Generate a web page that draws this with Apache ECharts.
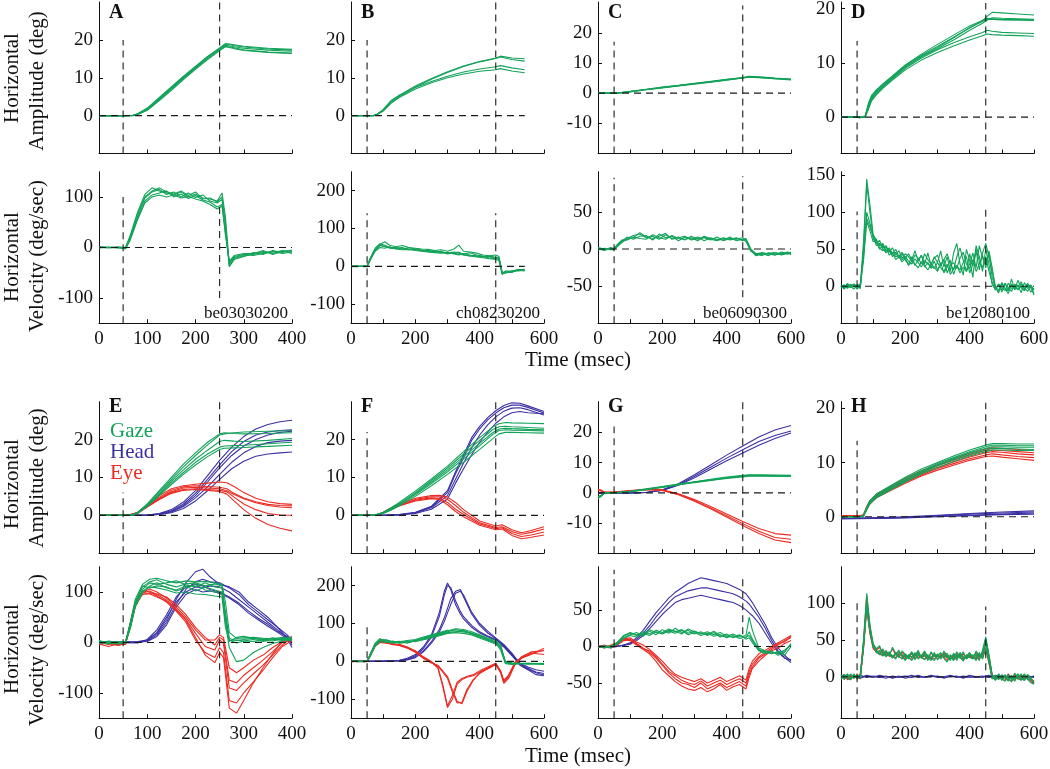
<!DOCTYPE html>
<html>
<head>
<meta charset="utf-8">
<title>Horizontal amplitude and velocity</title>
<script src="https://cdn.jsdelivr.net/npm/echarts@6.0.0/dist/echarts.min.js"></script>
<style>
  html, body { margin: 0; padding: 0; background: #fff; }
  #chart { width: 1050px; height: 769px; }
</style>
</head>
<body>
<div id="chart"></div>
<script>
// ---------- data ----------
// time bases (msec)
const T10 = [0,10,20,30,40,50,60,70,80,90,100,110,120,130,140,150,160,170,180,190,200,210,220,230,240,250,260,270,280,290,
  300,310,320,330,340,350,360,370,380,390,400,410,420,430,440,450,460,470,480,490,500,510,520,530,540,550,560,570,580,590,600];
const T20 = [0,20,40,60,80,100,120,140,160,180,200,220,240,260,280,300,320,340,360,380,400,420,440,460,480,500,520,540,560,580,600];

// A
const ampA_t = [0,50,70,80,100,125,150,175,200,225,250,262,280,300,350,400];
const ampA_gaze = [
  [0,0,0.1,0.5,2.0,4.8,7.6,10.4,13.0,15.6,17.8,18.9,18.5,18.1,17.6,17.3],
  [0,0,0.1,0.4,1.8,4.5,7.3,10.0,12.7,15.3,17.6,18.6,18.2,17.8,17.3,17.0],
  [0,0,0.0,0.3,1.5,4.2,7.0,9.8,12.5,15.0,17.3,18.3,17.9,17.4,16.8,16.5],
  [0,0,0.0,0.3,1.4,4.0,6.7,9.5,12.2,14.8,17.2,18.2,17.7,17.2,16.7,16.4],
  [0,-0.1,0.1,0.4,1.7,4.6,7.5,10.2,12.9,15.5,17.9,19.0,18.7,18.3,17.8,17.5]
];
const velA_t = [0,20,40,55,65,80,95,110,125,140,155,170,185,200,215,230,245,255,262,270,280,300,320,340,360,380,400];
const velA_gaze = [
  [2,0,1,0,25,70,105,118,112,108,104,110,100,106,98,96,92,108,60,-32,-20,-15,-14,-8,-12,-6,-8],
  [1,-1,0,-2,20,62,98,110,115,105,110,100,108,99,104,92,88,95,40,-36,-22,-17,-10,-14,-6,-10,-5],
  [0,1,-1,-1,18,58,92,104,108,112,100,106,97,103,94,90,80,85,30,-30,-18,-14,-16,-12,-9,-7,-12],
  [1,0,0,-3,15,55,88,100,104,100,104,98,101,96,92,85,76,82,25,-27,-16,-12,-12,-6,-14,-8,-6],
  [-1,0,1,-1,22,66,100,112,118,110,106,112,103,110,96,98,90,100,50,-38,-24,-18,-13,-10,-8,-12,-9]
];

// B
const ampB_t = [0,50,70,80,100,125,150,200,250,300,350,400,450,465,500,540];
const ampB_gaze = [
  [0,0,0,0.3,1.5,3.8,5.3,7.8,9.8,11.6,13.1,14.3,15.2,15.7,15.2,15.0],
  [0,0,0,0.2,1.3,3.5,5.0,7.5,9.6,11.4,13.0,14.2,15.1,15.5,14.8,14.4],
  [0,0,0,0.3,1.6,4.0,5.4,7.4,9.0,10.4,11.5,12.3,12.9,13.2,12.6,12.1],
  [0,0,0,0.2,1.2,3.3,4.8,7.0,8.7,10.0,11.0,11.7,12.1,12.4,11.8,11.3]
];
const velB_t = [0,20,40,50,60,75,90,105,120,140,160,180,200,220,240,260,280,300,320,335,350,370,390,410,430,450,460,470,480,500,520,540];
const velB_gaze = [
  [0,1,-1,0,20,45,58,65,56,52,55,50,48,46,45,42,44,40,46,56,40,38,35,30,28,30,26,-15,-18,-12,-8,-10],
  [1,0,0,-1,18,42,55,52,50,48,46,50,45,43,40,41,38,36,38,35,33,36,30,27,25,22,24,-20,-16,-14,-10,-12],
  [0,-1,1,0,16,40,50,48,52,46,44,45,42,40,38,36,35,37,33,30,34,30,27,26,22,20,18,-16,-14,-15,-9,-8],
  [-1,0,0,1,22,48,60,56,50,50,48,46,44,42,42,39,37,34,35,32,30,28,25,23,20,18,16,-22,-12,-12,-12,-10],
  [0,0,1,0,19,44,56,53,48,47,50,44,46,41,39,37,40,33,36,38,31,27,28,25,27,24,21,-18,-15,-16,-8,-11]
];

// C
const ampC_t = [0,50,60,100,150,200,250,300,350,400,450,470,500,550,600];
const ampC_gaze = [
  [0,0,0.05,0.5,1.2,1.8,2.5,3.2,3.8,4.5,5.1,5.5,5.3,4.9,4.6],
  [0,0,0.0,0.4,1.1,1.7,2.4,3.0,3.6,4.3,5.0,5.3,5.1,4.8,4.5],
  [0,0,0.05,0.6,1.3,2.0,2.6,3.3,3.9,4.6,5.2,5.6,5.4,5.0,4.7],
  [0,0,0.0,0.5,1.2,1.9,2.5,3.1,3.7,4.4,5.0,5.4,5.2,4.8,4.4]
];
const velC_t = [0,20,40,50,60,75,90,110,130,150,170,190,210,230,250,270,290,310,330,350,370,390,410,430,450,460,475,490,510,530,550,570,590,600];
const velC_gaze = [
  [1,-1,2,0,6,12,14,18,20,15,17,13,19,14,16,12,17,13,15,12,16,11,14,13,15,12,-2,-8,-6,-9,-5,-7,-4,-6],
  [-1,1,0,-1,4,10,16,13,17,18,12,20,15,17,11,16,13,16,11,15,12,15,12,14,12,14,0,-6,-9,-5,-8,-4,-7,-5],
  [0,-2,1,1,5,11,12,16,14,13,19,15,13,18,14,13,15,11,17,14,13,12,16,11,13,10,-3,-7,-5,-7,-8,-6,-5,-8],
  [2,0,-1,-1,3,9,13,15,22,16,14,17,21,13,15,17,12,14,16,13,11,14,13,15,11,13,-1,-9,-7,-6,-5,-8,-6,-4]
];

// D
const ampD_t = [0,40,60,75,85,95,110,130,160,200,250,300,350,400,440,455,470,500,550,600];
const ampD_gaze = [
  [0,0,0,0.2,2.5,4.0,5.0,6.0,7.5,9.5,11.4,13.0,14.7,16.4,17.8,18.6,19.3,19.2,19.0,18.8],
  [0,0,-0.1,0.1,2.0,3.6,4.7,5.8,7.3,9.3,11.2,12.8,14.6,16.5,17.6,18.0,18.0,17.9,17.9,17.8],
  [0,0,0,0.1,2.2,3.8,4.9,6.1,7.6,9.6,11.6,13.4,15.1,16.8,17.8,18.2,18.1,18.0,17.9,17.9],
  [0,0,0,0.0,1.6,3.2,4.3,5.5,7.0,9.0,10.9,12.4,13.7,14.8,15.6,16.0,15.8,15.6,15.5,15.4],
  [0,0,-0.1,0.0,1.4,3.0,4.1,5.3,6.8,8.7,10.5,11.9,13.1,14.2,15.0,15.3,15.2,15.1,15.0,14.9],
  [0,0,0,0.1,1.8,3.4,4.5,5.6,7.2,9.2,11.1,12.6,14.2,16.0,17.3,17.9,18.3,18.2,18.1,18.0]
];
const velD_gaze = [
  [2,-3,4,-2,3,-4,2,60,145,110, 70,62,55,58,48,52,44,50,40,46, 38,44,36,48,34,42,30,45,28,40,
   32,48,26,40,20,45,58,30,15,50, 35,12,55,40,20,50,30,2,-4,3, -8,4,-6,10,-5,2,-9,5,-3,2, -10],
  [-3,1,-2,3,-1,2,-2,50,138,100, 65,58,62,52,55,46,52,42,48,38, 44,40,34,42,38,30,44,36,30,38,
   42,28,36,44,30,22,40,52,35,20, 44,28,48,22,45,58,40,20,0,-6, 5,-3,-10,3,-4,8,-2,-6,4,-2, -5],
  [1,-2,3,0,-4,1,3,40,92,80, 68,60,50,56,45,50,40,46,38,44, 35,30,40,28,36,42,26,32,24,34,
   22,30,36,18,28,32,24,38,46,30, 24,36,20,30,42,25,45,12,-3,2, -5,4,-2,-7,3,-1,6,-4,2,-8, -3],
  [-1,2,-3,1,2,-3,0,35,88,75, 60,64,52,48,54,42,46,36,40,33, 38,28,34,30,25,33,28,22,30,26,
   20,32,18,26,35,16,28,22,32,40, 18,30,50,34,25,40,20,5,-5,3, -2,-6,4,-3,0,-5,3,-2,-7,1, -4],
  [0,-4,2,-2,3,0,-3,45,100,85, 66,55,58,50,46,48,44,40,42,36, 40,34,30,37,32,26,35,30,27,24,
   32,25,20,30,16,24,28,18,26,20, 30,45,25,55,38,30,48,25,-2,-9, 4,-3,-6,2,-2,-4,0,-6,3,-1, -12]
];

// E
const ampE_gaze_t = [0,40,60,70,80,100,125,150,175,200,225,250,260,280,300,350,400];
const ampE_gaze = [
  [0,0,0,0.2,0.8,3.0,6.5,10.0,13.5,16.5,19.3,21.5,21.8,21.6,21.5,21.6,21.8],
  [0,0,0,0.2,0.7,2.8,6.2,9.5,12.8,15.8,18.6,21.2,21.5,21.8,22.0,22.2,22.4],
  [0,0,0,0.1,0.6,2.6,5.8,9.0,12.0,14.8,17.2,19.5,19.8,19.6,19.5,19.8,20.3],
  [0,0,0,0.1,0.6,2.5,5.5,8.5,11.3,14.0,16.2,18.0,18.3,18.4,18.5,18.9,19.3],
  [0,0,0,0.1,0.5,2.4,5.2,8.1,10.8,13.3,15.5,17.4,17.7,17.8,17.9,18.2,18.5]
];
const ampE_head_t = [0,80,100,125,150,175,200,225,250,275,300,325,350,375,400];
const ampE_head = [
  [0,0,0.1,0.5,1.5,3.5,6.5,10.5,14.5,18.0,20.8,22.8,24.0,24.7,25.1],
  [0,0,0.1,0.4,1.2,3.0,5.8,9.5,13.3,16.8,19.5,21.2,22.0,22.4,22.6],
  [0,0,0.0,0.3,1.0,2.6,5.2,8.8,12.5,15.8,18.3,20.0,21.2,21.9,22.2],
  [0,0,0.0,0.3,0.9,2.3,4.6,7.5,10.8,14.0,16.5,18.2,19.2,19.6,19.8],
  [0,0,0.0,0.2,0.7,1.8,3.8,6.5,9.5,12.3,14.3,15.6,16.2,16.5,16.7]
];
const ampE_eye_t = [0,60,80,100,125,150,175,200,225,250,265,280,300,325,350,375,400];
const ampE_eye = [
  [0,0,0.8,2.8,5.2,7.0,7.8,8.2,8.5,8.8,8.6,7.6,6.0,4.5,3.6,3.1,2.9],
  [0,0,0.7,2.6,4.8,6.6,7.5,7.8,7.6,7.4,7.0,5.8,4.6,3.6,2.9,2.6,2.5],
  [0,0,0.6,2.4,4.5,6.2,7.2,7.4,7.2,7.0,6.5,5.5,4.4,3.3,2.6,2.2,2.0],
  [0,0,0.6,2.3,4.3,6.0,6.8,7.0,6.8,6.6,6.2,4.8,3.0,1.5,0.5,0.1,0.0],
  [0,0,0.5,2.2,4.2,5.8,6.6,6.8,6.6,6.3,5.6,3.8,1.5,-0.8,-2.4,-3.4,-4.1]
];
const velE_gaze_t = [0,20,40,55,65,75,90,105,120,140,160,180,200,220,240,255,262,270,285,300,320,340,360,380,400];
const velE_gaze = [
  [3,-2,2,0,40,85,115,125,127,122,118,122,120,121,118,115,80,20,8,9,10,8,7,10,8],
  [-2,3,0,-1,35,78,110,120,124,115,110,116,118,112,116,112,60,8,4,6,8,5,9,6,10],
  [4,-1,-3,1,30,72,105,118,115,118,122,114,110,118,110,108,50,5,-1,3,2,4,3,8,6],
  [1,2,-2,-1,38,80,112,108,112,110,102,108,115,104,100,95,40,-10,-38,-35,-20,-10,-2,3,5],
  [0,-3,1,2,32,75,102,110,108,104,98,100,96,95,92,90,30,2,10,12,8,6,5,7,4],
  [2,1,-1,0,28,70,98,112,118,108,104,112,102,110,104,100,45,4,5,3,6,2,6,4,7]
];
const velE_head_t = [0,80,100,120,140,160,180,200,215,230,250,270,290,310,330,350,370,390,400];
const velE_head = [
  [0,2,5,18,45,85,118,140,145,130,115,110,100,80,65,50,30,8,-10],
  [1,0,3,15,40,75,105,120,125,120,118,108,95,75,60,45,30,15,5],
  [-1,1,4,20,50,80,100,110,108,112,110,100,85,70,55,40,25,10,0],
  [0,-1,6,25,55,90,110,115,112,105,100,90,78,62,48,36,22,12,-5],
  [1,1,2,12,35,70,95,105,100,102,98,88,75,58,45,32,20,8,2]
];
const velE_eye_t = [0,20,40,55,65,75,90,105,120,140,160,180,200,220,240,250,258,270,285,300,320,340,360,380,400];
const velE_eye = [
  [-3,-8,-2,-4,40,80,100,106,100,88,70,50,25,5,5,15,10,-50,-60,-50,-35,-25,-10,2,8],
  [-2,2,-5,0,35,75,95,98,96,90,75,55,30,10,-5,10,5,-75,-80,-65,-50,-35,-18,0,6],
  [1,-3,-6,-2,30,70,98,102,95,84,66,46,18,-8,-15,5,-2,-90,-95,-80,-62,-45,-25,-5,10],
  [-5,0,-3,1,38,78,102,100,92,80,62,40,5,-20,-30,-10,-20,-115,-120,-100,-78,-55,-30,-8,4],
  [0,-4,2,-3,33,72,96,96,90,82,64,44,10,-25,-40,-20,-30,-130,-140,-115,-80,-50,-22,2,12]
];

// F
const ampF_gaze_t = [0,60,80,100,125,150,200,250,300,350,400,440,460,480,500,550,600];
const ampF_gaze = [
  [0,0,0.2,0.8,2.0,3.4,6.4,9.6,13.0,16.8,20.5,23.3,24.2,24.5,24.4,24.3,24.2],
  [0,0,0.2,0.7,1.8,3.1,6.0,9.2,12.5,16.2,19.8,22.6,23.4,23.5,23.4,23.2,23.0],
  [0,0,0.1,0.6,1.6,2.9,5.7,8.8,12.0,15.5,19.0,21.8,22.8,23.0,22.9,22.7,22.6],
  [0,0,0.1,0.6,1.5,2.7,5.4,8.4,11.5,14.9,18.4,21.3,22.4,22.6,22.5,22.4,22.3],
  [0,0,0.1,0.5,1.4,2.5,5.0,7.8,10.8,14.0,17.4,20.2,21.5,21.9,21.9,21.8,21.7]
];
const ampF_head_t = [0,100,150,200,250,300,325,350,375,400,425,450,475,500,525,550,600];
const ampF_head = [
  [0,0,0.2,0.8,2.4,6.5,11.5,16.0,20.5,23.5,25.8,27.6,29.0,29.7,29.6,28.9,27.4],
  [0,0,0.2,0.7,2.2,6.0,11.0,15.2,19.8,22.8,25.2,27.0,28.4,29.1,29.1,28.5,27.0],
  [0,0,0.1,0.6,2.0,5.2,9.5,13.8,17.8,21.2,23.9,26.0,27.5,28.3,28.4,27.9,26.5],
  [0,0,0.1,0.5,1.6,4.3,8.5,12.3,16.0,19.3,22.0,24.3,26.0,27.1,27.4,27.1,26.8]
];
const ampF_eye_t = [0,60,80,100,125,150,200,250,275,300,325,350,400,450,470,500,530,560,600];
const ampF_eye = [
  [0,0,0.2,0.8,2.0,3.0,4.5,5.2,5.3,4.8,3.4,1.5,-1.5,-2.8,-2.5,-3.8,-4.6,-4.0,-3.0],
  [0,0,0.2,0.7,1.8,2.8,4.2,4.9,4.9,4.2,2.6,0.8,-2.0,-3.2,-3.0,-4.3,-5.0,-4.5,-3.6],
  [0,0,0.1,0.6,1.6,2.6,4.0,4.6,4.5,3.4,1.6,0.2,-2.3,-3.5,-3.3,-4.8,-5.6,-5.2,-4.4],
  [0,0,0.1,0.6,1.5,2.5,3.8,4.4,4.2,2.8,1.0,-0.4,-2.6,-3.8,-3.6,-5.3,-6.2,-5.8,-5.2]
];
const velF_gaze_t = [0,20,40,50,60,75,90,110,130,150,175,200,225,250,275,300,325,350,375,400,425,450,465,480,500,550,600];
const velF_gaze = [
  [0,1,-1,0,18,45,58,56,52,50,52,56,62,68,74,80,86,84,78,70,62,55,45,-2,-5,-6,-7],
  [1,-1,0,1,16,42,55,54,50,52,55,58,64,70,76,82,80,78,74,68,60,52,40,-4,-6,-5,-6],
  [-1,0,1,-1,14,40,52,50,54,48,50,54,60,66,72,78,84,80,75,66,58,50,35,0,-4,-7,-5],
  [0,1,0,0,20,48,60,52,48,50,54,52,58,64,70,76,78,82,72,64,56,48,30,-6,-8,-5,-8],
  [1,0,-1,0,17,44,56,57,51,53,48,55,57,62,68,74,76,74,70,62,54,46,38,-3,-5,-7,-6]
];
const velF_head_t = [0,100,150,175,200,225,250,275,290,300,310,325,340,350,375,400,425,450,475,500,525,550,575,600];
const velF_head = [
  [0,0,3,8,18,38,70,130,185,207,190,150,125,112,90,75,65,56,38,15,-8,-18,-28,-32],
  [0,1,2,6,15,34,64,120,175,200,195,160,132,118,95,78,67,58,42,20,-5,-15,-22,-26],
  [0,0,2,5,12,28,52,85,115,140,165,185,190,170,125,95,75,60,40,18,-10,-22,-35,-38],
  [0,1,1,4,10,25,48,78,105,128,150,180,185,175,130,100,80,62,45,22,-6,-20,-30,-36]
];
const velF_eye_t = [0,20,40,50,60,75,90,110,130,150,175,200,225,250,270,285,300,315,330,345,360,380,400,425,450,465,475,490,510,530,560,600];
const velF_eye = [
  [1,-1,0,0,16,42,52,50,46,45,38,28,12,0,-15,-60,-118,-90,-55,-45,-40,-35,-25,-15,-5,-25,-55,-40,-5,10,20,30],
  [0,1,-1,0,14,40,50,48,45,44,36,26,10,-2,-18,-65,-122,-100,-60,-48,-42,-38,-28,-18,-8,-30,-58,-45,-8,8,18,35],
  [-1,0,1,0,18,44,54,49,47,42,35,24,8,-4,-10,-25,-40,-75,-105,-112,-80,-50,-30,-20,-8,-28,-52,-38,-4,12,25,28],
  [0,0,0,1,15,41,51,52,44,43,37,25,9,-3,-12,-28,-45,-80,-110,-108,-75,-48,-32,-18,-6,-26,-50,-36,-2,10,22,18]
];

// G
const ampG_gaze_t = [0,10,20,50,100,150,200,250,300,350,400,450,470,500,550,600];
const ampG_gaze = [
  [-1.5,-1.0,0,0,0.5,1.2,2.0,2.8,3.6,4.3,5.0,5.6,5.8,5.8,5.7,5.6],
  [-1.8,-1.2,0,0,0.4,1.1,1.9,2.7,3.5,4.2,4.9,5.5,5.7,5.7,5.6,5.5],
  [-1.2,-0.8,0,0,0.5,1.3,2.1,2.9,3.7,4.5,5.2,5.8,6.0,6.0,5.9,5.8],
  [-1.6,-1.0,0,0,0.4,1.0,1.8,2.6,3.4,4.1,4.8,5.3,5.5,5.6,5.5,5.4]
];
const ampG_head_t = [0,100,150,200,250,300,350,400,450,500,550,600];
const ampG_head = [
  [0,0,0.1,1.0,3.0,6.0,9.2,12.5,15.5,18.5,20.8,22.3],
  [0,0,0.1,0.9,2.7,5.5,8.5,11.5,14.3,17.0,19.0,20.5],
  [0,0,0.1,0.8,2.5,5.0,7.8,10.6,13.2,15.8,18.0,19.8]
];
const ampG_eye_t = [0,10,20,50,100,150,200,250,300,350,400,450,500,550,600];
const ampG_eye = [
  [1.0,0.8,0.2,0.3,0.8,1.2,1.0,-0.3,-2.2,-4.5,-7.0,-9.5,-11.8,-13.5,-14.0],
  [0.8,0.6,0.1,0.2,0.6,1.0,0.8,-0.6,-2.8,-5.3,-8.0,-10.8,-13.5,-15.6,-16.5],
  [1.2,0.9,0.3,0.3,0.7,1.1,0.9,-0.5,-2.5,-5.0,-7.6,-10.2,-12.7,-14.8,-15.4]
];
const velG_t = [0,20,40,60,80,100,120,140,160,180,200,220,240,260,280,300,320,340,360,380,400,420,440,460,470,480,500,520,540,560,580,600];
const velG_gaze = [
  [0,-2,1,5,14,18,15,20,17,22,19,24,20,23,18,21,17,20,16,19,14,17,13,15,40,22,-2,-6,-8,-10,-5,2],
  [1,-1,-2,4,12,16,19,14,21,16,23,18,25,19,22,17,20,15,19,13,17,12,15,12,20,10,-4,-8,-10,-7,-12,0],
  [-1,1,0,3,11,15,13,18,15,20,17,21,18,22,16,19,15,18,14,16,12,15,11,13,15,8,-6,-10,-6,-12,-8,4],
  [0,0,-1,6,15,19,16,17,23,19,18,22,21,17,24,20,18,16,21,15,14,13,16,10,12,5,-5,-7,-9,-8,-6,3]
];
const velG_head = [
  [0,1,-1,0,2,5,12,22,34,46,56,66,74,80,86,90,94,92,90,88,86,82,78,72,66,60,45,30,12,-2,-12,-20],
  [0,-1,0,1,1,4,10,18,28,40,50,60,68,72,76,78,80,80,78,76,74,72,68,62,58,52,40,25,8,-6,-15,-22],
  [1,0,-1,0,2,3,8,15,24,34,44,52,60,64,66,68,70,68,66,64,62,60,56,50,46,42,32,18,4,-8,-16,-18]
];
const velG_eye = [
  [-2,1,-1,4,10,12,6,2,-4,-12,-20,-30,-38,-42,-45,-48,-44,-50,-46,-42,-48,-44,-40,-46,-30,-20,-10,-5,0,5,10,15],
  [1,-2,0,3,9,10,4,-2,-8,-16,-26,-36,-44,-50,-52,-56,-50,-58,-54,-50,-56,-52,-48,-54,-38,-28,-16,-10,-4,2,8,12],
  [0,-1,2,5,11,8,2,-4,-10,-20,-32,-40,-48,-54,-58,-60,-56,-62,-58,-52,-60,-55,-52,-58,-42,-30,-20,-12,-6,-2,4,8],
  [-1,2,-2,2,8,9,3,-3,-6,-14,-24,-34,-40,-46,-50,-52,-47,-54,-50,-46,-52,-48,-44,-50,-34,-24,-14,-8,-2,4,6,14]
];

// H
const ampH_t = [0,40,60,70,80,90,110,150,200,250,300,350,400,450,470,500,550,600];
const ampH_gaze = [
  [0,0,0,0.3,1.8,3.0,4.2,5.6,7.3,8.8,10.0,11.2,12.3,13.2,13.5,13.5,13.4,13.4],
  [0,0,0,0.2,1.6,2.8,4.0,5.4,7.0,8.5,9.8,10.9,12.0,12.9,13.2,13.2,13.1,13.1],
  [0,0,0,0.2,1.5,2.7,3.8,5.2,6.8,8.3,9.6,10.7,11.8,12.6,12.9,12.9,12.8,12.8],
  [0,0,0,0.2,1.4,2.6,3.7,5.0,6.6,8.1,9.4,10.5,11.5,12.3,12.6,12.6,12.5,12.4],
  [0,0,0,0.1,1.3,2.4,3.5,4.8,6.4,7.9,9.1,10.2,11.2,12.0,12.3,12.3,12.2,12.2]
];
const ampH_eye = [
  [0.2,0.2,0.2,0.4,1.9,3.0,4.2,5.5,7.1,8.5,9.6,10.7,11.7,12.5,12.7,12.6,12.4,12.2],
  [0.2,0.2,0.2,0.4,1.7,2.8,4.0,5.3,6.8,8.2,9.4,10.4,11.4,12.2,12.3,12.2,12.0,11.8],
  [0.2,0.2,0.2,0.3,1.6,2.7,3.8,5.1,6.6,8.0,9.1,10.1,11.0,11.8,12.0,11.9,11.6,11.4],
  [0.2,0.2,0.2,0.3,1.5,2.5,3.6,4.9,6.4,7.7,8.9,9.8,10.7,11.4,11.6,11.4,11.1,10.9],
  [0.2,0.2,0.2,0.3,1.4,2.4,3.5,4.7,6.2,7.5,8.6,9.5,10.4,11.1,11.2,11.0,10.7,10.4]
];
const ampH_head_t = [0,100,200,300,400,500,600];
const ampH_head = [
  [-0.3,-0.2,0.0,0.3,0.6,0.9,1.1],
  [-0.3,-0.2,-0.1,0.2,0.5,0.7,0.9],
  [-0.4,-0.3,-0.1,0.1,0.3,0.5,0.7],
  [-0.3,-0.3,-0.2,0.0,0.2,0.4,0.5]
];
const velH_gaze = [
  [2,-4,3,-2,4,-3,1,50,113,70, 45,38,42,30,36,28,40,32,26,35, 30,24,33,28,36,25,30,22,34,27,
   31,24,35,28,22,32,26,30,24,28, 33,25,31,22,36,54,30,2,-3,4, -2,-6,3,-4,5,-1,-5,2,-3,-8, -10],
  [-3,2,-1,4,-2,3,-1,45,100,65, 42,35,30,38,28,34,25,31,36,27, 22,30,26,33,24,29,35,26,22,30,
   28,33,25,20,30,24,34,27,21,30, 26,24,35,28,32,48,25,0,-5,2, -4,3,-2,-7,1,-3,4,-5,2,-4, -6],
  [1,3,-2,-4,2,-1,3,40,95,60, 40,36,32,28,34,30,26,33,28,24, 31,27,22,29,32,26,23,30,26,22,
   29,25,31,26,28,22,30,25,34,24, 28,30,26,33,24,40,20,-3,2,-4, 3,-1,-6,2,-3,4,-2,-5,3,-1, -8],
  [-2,0,4,-3,1,2,-2,42,98,62, 44,32,36,33,27,32,29,24,33,30, 26,28,34,23,30,27,32,28,25,33,
   23,29,26,32,24,30,22,33,27,25, 31,28,22,30,27,52,28,1,-2,3, -5,2,-3,0,-6,3,-2,4,-4,-2, -9]
];
const velH_eye = [
  [3,-2,1,-4,2,-1,4,48,110,68, 43,36,40,32,34,30,38,30,28,33, 28,26,31,29,34,26,28,24,32,28,
   29,26,33,27,24,30,27,29,25,27, 31,26,29,24,34,50,28,3,-4,2, -3,-5,4,-2,3,-3,-4,3,-2,-6, -9],
  [-1,3,-3,2,-2,4,-1,44,102,64, 40,34,31,36,29,32,27,30,34,28, 24,29,27,31,26,28,33,27,24,29,
   27,31,26,22,29,25,32,26,23,29, 27,25,33,27,30,46,24,1,-3,3, -2,2,-4,-5,2,-2,3,-4,3,-3, -7],
  [0,2,-4,-2,3,-3,2,38,92,58, 38,34,30,30,32,28,27,31,27,25, 29,26,24,28,30,27,24,28,25,24,
   28,26,29,25,27,23,29,26,31,25, 27,28,25,31,25,38,18,-2,1,-3, 2,-2,-5,1,-2,3,-3,-4,2,-2, -6],
  [-3,1,3,-1,0,1,-3,40,96,60, 42,33,34,31,28,30,28,26,31,29, 27,27,32,25,29,26,30,27,26,31,
   24,28,27,30,25,28,24,31,26,26, 29,27,24,29,26,50,26,0,-3,2, -4,1,-2,-1,-5,2,-3,3,-3,-3, -8]
];
const velH_head = [
  [0,-2,1,-1,2,0,-1,1,-2,0,1,-1,2,-1,0,1,-2,1,0,-1,2,0,-1,1,0,-2,1,0,-1,1,0],
  [1,0,-1,2,-1,1,0,-2,1,-1,0,2,-1,0,1,-1,0,2,-1,1,-1,0,1,-1,2,0,-1,1,0,-1,1],
  [-1,1,0,-2,1,-1,2,0,-1,1,-2,0,1,-1,2,0,-1,0,1,-2,1,-1,0,2,-1,1,0,-2,1,0,-1]
];

// dashed markers: [time, yFrom, yTo]
const dashA_amp = [[50,-10,20],[250,-10,30]];
const dashA_vel = [[50,-150,100],[250,-100,90]];
const dashB_amp = [[50,-10,20],[450,-10,30]];
const dashB_vel = [[50,-150,140],[450,-150,140]];
const dashC_amp = [[50,-20,17],[450,-20,29]];
const dashC_vel = [[50,-100,96],[450,-65,98]];
const dashD_amp = [[50,-6.7,14],[450,-6.7,21]];
const dashD_vel = [[50,-50,101],[450,-36,104]];
const dashE_amp = [[50,-10,6],[250,-10,30]];
const dashE_vel = [[50,-150,100],[250,-150,100]];
const dashF_amp = [[50,-10,22],[450,-10,30]];
const dashF_vel = [[50,-150,100],[450,-150,100]];
const dashG_amp = [[50,-20,22],[450,-20,30]];
const dashG_vel = [[50,-98,105],[450,-98,95]];
const dashH_amp = [[50,-6.7,14],[450,-6.7,21]];
const dashH_vel = [[50,-56,100],[450,-56,95]];

// axis ranges and ticks
const xTicks400 = [0,100,200,300,400];
const xTicks600 = [0,100,200,300,400,500,600];
const xLabels600 = [0,200,400,600];
const yTicksAmp = [0,10,20];
const yTicksAmpWide = [-10,0,10,20];
const yTicksVel150 = [-100,0,100];
const yTicksVel250 = [-100,0,100,200];
const yTicksVel100 = [-50,0,50];
const yTicksVelD = [0,50,100,150];
const yTicksVelH = [0,50,100];
const rangeAmp = [-10,30], rangeAmpWide = [-20,30.2], rangeAmpD = [-6.7,21.2];
const rangeVel150 = [-150,150], rangeVel250 = [-150,250], rangeVelC = [-100,104], rangeVelG = [-98,109];
const rangeVelD = [-50,155], rangeVelH = [-56,149];

const panelLetters = ['A','B','C','D','E','F','G','H'];
const recordIds = ['be03030200','ch08230200','be06090300','be12080100'];
const legendNames = ['Gaze','Head','Eye'];

// ---------- layout ----------
const GREEN = '#12a259', BLUE = '#3a30a4', RED = '#ec2a22';
const SERIF = '"Liberation Serif", "DejaVu Serif", serif';
const INK = '#111';
const COL_X = [99, 351, 598, 841];
const ROW_Y = [2, 171.7, 401.7, 566.7];
const PW = 193, PH = 151.5;

const panels = [
  { r:0, c:0, xMax:400, xT:xTicks400, xL:xTicks400, yR:rangeAmp, yT:yTicksAmp, dash:dashA_amp, zeroEnd:400,
    groups:[[ampA_t, ampA_gaze, GREEN]] },
  { r:0, c:1, xMax:600, xT:xTicks600, xL:xLabels600, yR:rangeAmp, yT:yTicksAmp, dash:dashB_amp, zeroEnd:540,
    groups:[[ampB_t, ampB_gaze, GREEN]] },
  { r:0, c:2, xMax:600, xT:xTicks600, xL:xLabels600, yR:rangeAmpWide, yT:yTicksAmpWide, dash:dashC_amp, zeroEnd:600,
    groups:[[ampC_t, ampC_gaze, GREEN]] },
  { r:0, c:3, xMax:600, xT:xTicks600, xL:xLabels600, yR:rangeAmpD, yT:yTicksAmp, dash:dashD_amp, zeroEnd:600,
    groups:[[ampD_t, ampD_gaze, GREEN]] },
  { r:1, c:0, xMax:400, xT:xTicks400, xL:xTicks400, yR:rangeVel150, yT:yTicksVel150, dash:dashA_vel, zeroEnd:400,
    groups:[[velA_t, velA_gaze, GREEN]] },
  { r:1, c:1, xMax:600, xT:xTicks600, xL:xLabels600, yR:rangeVel250, yT:yTicksVel250, dash:dashB_vel, zeroEnd:540,
    groups:[[velB_t, velB_gaze, GREEN]] },
  { r:1, c:2, xMax:600, xT:xTicks600, xL:xLabels600, yR:rangeVelC, yT:yTicksVel100, dash:dashC_vel, zeroEnd:600,
    groups:[[velC_t, velC_gaze, GREEN]] },
  { r:1, c:3, xMax:600, xT:xTicks600, xL:xLabels600, yR:rangeVelD, yT:yTicksVelD, dash:dashD_vel, zeroEnd:600,
    groups:[[T10, velD_gaze, GREEN]] },
  { r:2, c:0, xMax:400, xT:xTicks400, xL:xTicks400, yR:rangeAmp, yT:yTicksAmp, dash:dashE_amp, zeroEnd:400,
    groups:[[ampE_head_t, ampE_head, BLUE],[ampE_eye_t, ampE_eye, RED],[ampE_gaze_t, ampE_gaze, GREEN]] },
  { r:2, c:1, xMax:600, xT:xTicks600, xL:xLabels600, yR:rangeAmp, yT:yTicksAmp, dash:dashF_amp, zeroEnd:600,
    groups:[[ampF_head_t, ampF_head, BLUE],[ampF_eye_t, ampF_eye, RED],[ampF_gaze_t, ampF_gaze, GREEN]] },
  { r:2, c:2, xMax:600, xT:xTicks600, xL:xLabels600, yR:rangeAmpWide, yT:yTicksAmpWide, dash:dashG_amp, zeroEnd:600,
    groups:[[ampG_head_t, ampG_head, BLUE],[ampG_eye_t, ampG_eye, RED],[ampG_gaze_t, ampG_gaze, GREEN]] },
  { r:2, c:3, xMax:600, xT:xTicks600, xL:xLabels600, yR:rangeAmpD, yT:yTicksAmp, dash:dashH_amp, zeroEnd:600,
    groups:[[ampH_head_t, ampH_head, BLUE],[ampH_t, ampH_eye, RED],[ampH_t, ampH_gaze, GREEN]] },
  { r:3, c:0, xMax:400, xT:xTicks400, xL:xTicks400, yR:rangeVel150, yT:yTicksVel150, dash:dashE_vel, zeroEnd:400,
    groups:[[velE_head_t, velE_head, BLUE],[velE_eye_t, velE_eye, RED],[velE_gaze_t, velE_gaze, GREEN]] },
  { r:3, c:1, xMax:600, xT:xTicks600, xL:xLabels600, yR:rangeVel250, yT:yTicksVel250, dash:dashF_vel, zeroEnd:600,
    groups:[[velF_head_t, velF_head, BLUE],[velF_eye_t, velF_eye, RED],[velF_gaze_t, velF_gaze, GREEN]] },
  { r:3, c:2, xMax:600, xT:xTicks600, xL:xLabels600, yR:rangeVelG, yT:yTicksVel100, dash:dashG_vel, zeroEnd:600,
    groups:[[velG_t, velG_head, BLUE],[velG_t, velG_eye, RED],[velG_t, velG_gaze, GREEN]] },
  { r:3, c:3, xMax:600, xT:xTicks600, xL:xLabels600, yR:rangeVelH, yT:yTicksVelH, dash:dashH_vel, zeroEnd:600,
    groups:[[T20, velH_head, BLUE],[T10, velH_eye, RED],[T10, velH_gaze, GREEN]] }
];

const grid = [], xAxis = [], yAxis = [], series = [], graphic = [];
const axisLine = { show: true, onZero: false, lineStyle: { color: '#111', width: 1 } };

panels.forEach((p, i) => {
  const showX = p.r % 2 === 1;
  grid.push({ left: COL_X[p.c], top: ROW_Y[p.r], width: PW, height: PH, containLabel: false, outerBoundsMode: 'none' });
  xAxis.push({
    type: 'value', gridIndex: i, min: 0, max: p.xMax,
    axisLine, splitLine: { show: false },
    axisTick: { show: true, inside: true, length: 4, customValues: p.xT, lineStyle: { color: '#111' } },
    axisLabel: { show: showX, customValues: p.xL, fontFamily: SERIF, fontSize: 19, color: INK, margin: 6 }
  });
  yAxis.push({
    type: 'value', gridIndex: i, min: p.yR[0], max: p.yR[1],
    axisLine, splitLine: { show: false },
    axisTick: { show: true, inside: true, length: 4, customValues: p.yT, lineStyle: { color: '#111' } },
    axisLabel: { customValues: p.yT, fontFamily: SERIF, fontSize: 19, color: INK, margin: 6 }
  });
  p.groups.forEach(([t, traces, color]) => {
    traces.forEach(v => {
      series.push({
        type: 'line', xAxisIndex: i, yAxisIndex: i, data: t.map((x, k) => [x, v[k]]),
        showSymbol: false, symbol: 'none', silent: true,
        lineStyle: { color, width: 1.1 }
      });
    });
  });
  const dashed = data => ({
    type: 'line', xAxisIndex: i, yAxisIndex: i, data, showSymbol: false, symbol: 'none', silent: true, z: 3,
    lineStyle: { color: '#1a1a1a', width: 1.1, type: [7, 5] }
  });
  series.push(dashed([[0, 0], [p.zeroEnd, 0]]));
  p.dash.forEach(([x, y0, y1]) => series.push(dashed([[x, y0], [x, y1]])));
});

function text(str, x, y, font, fill, align, rotation) {
  graphic.push({
    type: 'text', x, y, rotation: rotation || 0, silent: true,
    style: { text: str, font, fill: fill || INK, textAlign: align || 'left', textVerticalAlign: 'middle',
             align: align || 'left', verticalAlign: 'middle' }
  });
}

// panel letters
const LETTER_Y = [13, 407];
panelLetters.forEach((l, k) => text(l, COL_X[k % 4] + 10, LETTER_Y[Math.floor(k / 4)], 'bold 20px ' + SERIF));

// recording ids
recordIds.forEach((id, k) => text(id, COL_X[k] + 189, ROW_Y[1] + 142, '17px ' + SERIF, INK, 'right'));

// y titles
const TITLE_FONT = '21px ' + SERIF;
const yTitles = [
  ['Horizontal', 78, 'Amplitude (deg)', 81],
  ['Horizontal', 257, 'Velocity (deg/sec)', 256],
  ['Horizontal', 484, 'Amplitude (deg)', 478],
  ['Horizontal', 649, 'Velocity (deg/sec)', 650]
];
yTitles.forEach(([a, ya, b, yb]) => {
  text(a, 12, ya, TITLE_FONT, INK, 'center', Math.PI / 2);
  text(b, 37, yb, TITLE_FONT, INK, 'center', Math.PI / 2);
});

// x titles
text('Time (msec)', 578, 360, TITLE_FONT, INK, 'center');
text('Time (msec)', 578, 756, TITLE_FONT, INK, 'center');

// legend in panel E
const legendColors = [GREEN, BLUE, RED];
const legendY = [431, 452, 473];
legendNames.forEach((n, k) => text(n, 110, legendY[k], '21px ' + SERIF, legendColors[k]));

const chart = echarts.init(document.getElementById('chart'), null, { renderer: 'canvas' });
chart.setOption({
  animation: false,
  backgroundColor: '#fff',
  grid, xAxis, yAxis, series, graphic
});
</script>
</body>
</html>
